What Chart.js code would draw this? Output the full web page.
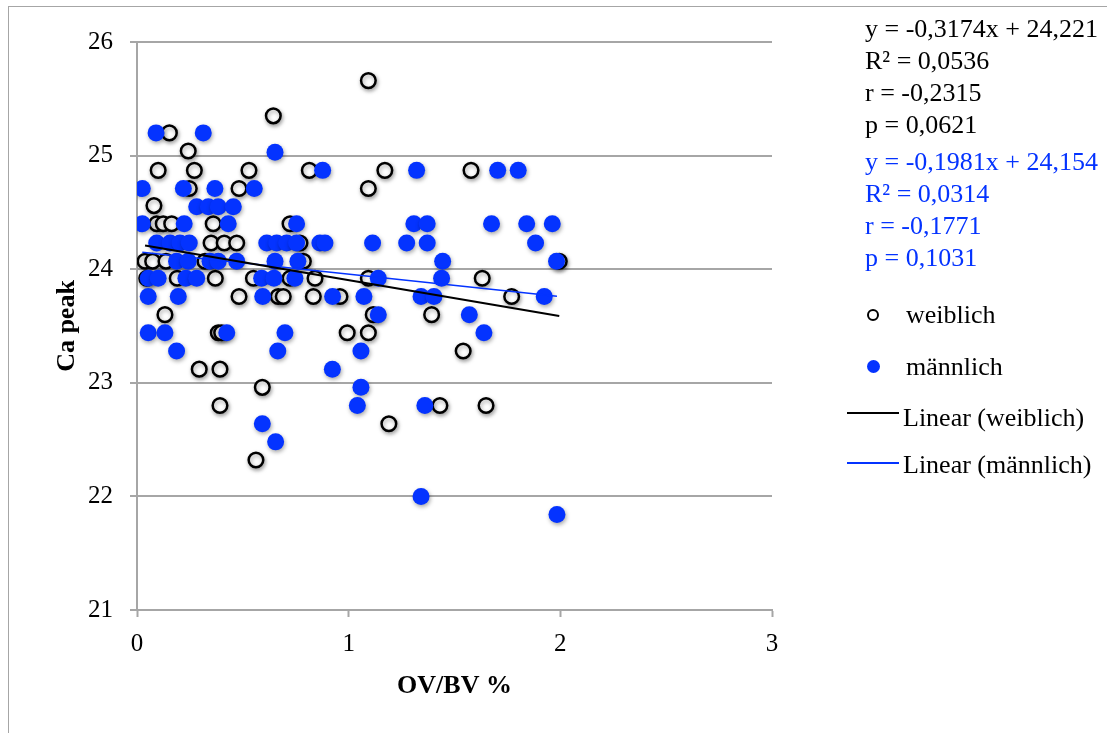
<!DOCTYPE html>
<html>
<head>
<meta charset="utf-8">
<script src="https://cdn.jsdelivr.net/npm/chart.js@4/dist/chart.umd.min.js"></script>
<style>
body{margin:0;background:#fff;width:1107px;height:733px;overflow:hidden;position:relative;font-family:'Liberation Serif','Times New Roman',serif}
#frame{position:absolute;left:8px;top:6px;width:1200px;height:800px;border-left:1px solid #a6a6a6;border-top:1px solid #a6a6a6}
canvas{position:absolute;left:0;top:0}
.t{position:absolute;font-size:26px;line-height:32px;white-space:nowrap;color:#000}
.b{color:#0433ff}
</style>
</head>
<body>
<div id="frame"></div>
<canvas id="chart" width="1107" height="733"></canvas>

<div class="t" style="left:865px;top:13px">y = -0,3174x + 24,221</div>
<div class="t" style="left:865px;top:45px">R² = 0,0536</div>
<div class="t" style="left:865px;top:77px">r = -0,2315</div>
<div class="t" style="left:865px;top:109px">p = 0,0621</div>
<div class="t b" style="left:865px;top:146px">y = -0,1981x + 24,154</div>
<div class="t b" style="left:865px;top:178px">R² = 0,0314</div>
<div class="t b" style="left:865px;top:210px">r = -0,1771</div>
<div class="t b" style="left:865px;top:242px">p = 0,1031</div>

<div style="position:absolute;left:867px;top:309px;width:12px;height:12px;box-sizing:border-box;border:2px solid #000;border-radius:50%;background:#fff"></div>
<div class="t" style="left:906px;top:299px">weiblich</div>
<div style="position:absolute;left:867px;top:360px;width:13px;height:13px;border-radius:50%;background:#0433ff"></div>
<div class="t" style="left:906px;top:351px">männlich</div>
<div style="position:absolute;left:847px;top:412px;width:52px;height:2px;background:#000"></div>
<div class="t" style="left:903px;top:402px">Linear (weiblich)</div>
<div style="position:absolute;left:847px;top:462px;width:52px;height:1.5px;background:#0433ff"></div>
<div class="t" style="left:903px;top:449px">Linear (männlich)</div>

<script>
// weiblich (open circles)
const weiblichX = [1.093, 0.644, 0.153, 0.242,
  0.10, 0.271, 0.529, 0.814, 1.171, 1.578,
  0.247, 0.482, 1.093,
  0.080,
  0.093, 0.124, 0.164, 0.36, 0.723,
  0.35, 0.412, 0.471, 0.77,
  0.038, 0.074, 0.137, 0.321, 0.786, 1.995,
  0.046, 0.19, 0.37, 0.55, 0.723, 0.841, 1.093, 1.631,
  0.482, 0.667, 0.691, 0.833, 0.959, 1.77,
  0.132, 1.116, 1.392,
  0.384, 0.40, 0.993, 1.093,
  1.541,
  0.294, 0.392,
  0.592,
  0.392, 1.431, 1.649,
  1.19,
  0.562];
const weiblichY = [25.66, 25.35, 25.2, 25.04,
  24.87, 24.87, 24.87, 24.87, 24.87, 24.87,
  24.71, 24.71, 24.71,
  24.56,
  24.4, 24.4, 24.4, 24.4, 24.4,
  24.23, 24.23, 24.23, 24.23,
  24.07, 24.07, 24.07, 24.07, 24.07, 24.07,
  23.92, 23.92, 23.92, 23.92, 23.92, 23.92, 23.92, 23.92,
  23.76, 23.76, 23.76, 23.76, 23.76, 23.76,
  23.6, 23.6, 23.6,
  23.44, 23.44, 23.44, 23.44,
  23.28,
  23.12, 23.12,
  22.96,
  22.8, 22.8, 22.8,
  22.64,
  22.32];

// männlich (filled blue)
const maennlichX = [0.090, 0.313,
  0.652,
  0.877, 1.321, 1.704, 1.801,
  0.025, 0.219, 0.368, 0.554,
  0.282, 0.337, 0.384, 0.455,
  0.025, 0.223, 0.431, 0.754, 1.308, 1.371, 1.675, 1.841, 1.962,
  0.093, 0.156, 0.203, 0.247, 0.613, 0.66, 0.707, 0.754, 0.864, 0.888, 1.113, 1.274, 1.371, 1.883,
  0.187, 0.242, 0.345, 0.384, 0.471, 0.652, 0.76, 1.444, 1.982,
  0.053, 0.10, 0.231, 0.282, 0.589, 0.647, 0.746, 1.14, 1.439,
  0.053, 0.195, 0.594, 0.924, 1.072, 1.342, 1.403, 1.924,
  1.14, 1.57,
  0.053, 0.132, 0.424, 0.699, 1.639,
  0.187, 0.665, 1.058,
  0.923,
  1.058,
  1.041, 1.36,
  0.592,
  0.655,
  1.342,
  1.984];
const maennlichY = [25.2, 25.2,
  25.03,
  24.87, 24.87, 24.87, 24.87,
  24.71, 24.71, 24.71, 24.71,
  24.55, 24.55, 24.55, 24.55,
  24.4, 24.4, 24.4, 24.4, 24.4, 24.4, 24.4, 24.4, 24.4,
  24.23, 24.23, 24.23, 24.23, 24.23, 24.23, 24.23, 24.23, 24.23, 24.23, 24.23, 24.23, 24.23, 24.23,
  24.07, 24.07, 24.07, 24.07, 24.07, 24.07, 24.07, 24.07, 24.07,
  23.92, 23.92, 23.92, 23.92, 23.92, 23.92, 23.92, 23.92, 23.92,
  23.76, 23.76, 23.76, 23.76, 23.76, 23.76, 23.76, 23.76,
  23.6, 23.6,
  23.44, 23.44, 23.44, 23.44, 23.44,
  23.28, 23.28, 23.28,
  23.12,
  22.96,
  22.8, 22.8,
  22.64,
  22.48,
  22.0,
  21.84];

// trend lines (from the equations in the chart)
const trendSlope = [-0.3174, -0.1981];
const trendIntercept = [24.221, 24.154];

const blue = '#0433ff';
const gray = '#a6a6a6';

function pts(xs, ys) { return xs.map((x, i) => ({x: x, y: ys[i]})); }
function trend(xs, k) {
  const a = Math.min(...xs), b = Math.max(...xs);
  return [{x: a, y: trendSlope[k] * a + trendIntercept[k]}, {x: b, y: trendSlope[k] * b + trendIntercept[k]}];
}

const shadow = {
  id: 'shadow',
  beforeDatasetDraw(chart, args) {
    if (chart.data.datasets[args.index].showLine) return;
    const c = chart.ctx;
    c.save();
    c.shadowColor = 'rgba(0,0,0,0.35)';
    c.shadowBlur = 4;
    c.shadowOffsetX = 1;
    c.shadowOffsetY = 2;
  },
  afterDatasetDraw(chart, args) {
    if (chart.data.datasets[args.index].showLine) return;
    chart.ctx.restore();
  }
};

Chart.defaults.font.family = "'Liberation Serif', 'Times New Roman', serif";
Chart.defaults.color = '#000';

new Chart(document.getElementById('chart'), {
  type: 'scatter',
  data: {
    datasets: [
      {label: 'Linear (weiblich)', data: trend(weiblichX, 0), showLine: true, borderColor: '#000', borderWidth: 2, pointRadius: 0, order: 1},
      {label: 'Linear (männlich)', data: trend(maennlichX, 1), showLine: true, borderColor: blue, borderWidth: 1.5, pointRadius: 0, order: 2},
      {label: 'männlich', data: pts(maennlichX, maennlichY), backgroundColor: blue, borderColor: blue, borderWidth: 0, pointRadius: 8.5, order: 3},
      {label: 'weiblich', data: pts(weiblichX, weiblichY), backgroundColor: '#fff', borderColor: '#000', borderWidth: 2.5, pointRadius: 7.3, order: 4}
    ]
  },
  options: {
    responsive: false,
    animation: false,
    layout: {padding: {left: 0, right: 335, top: 42, bottom: 0}},
    plugins: {legend: {display: false}, tooltip: {enabled: false}},
    scales: {
      x: {
        type: 'linear', min: 0, max: 3,
        ticks: {stepSize: 1, font: {size: 25}, padding: 12, color: '#000'},
        grid: {drawOnChartArea: false, tickLength: 7, tickColor: gray, tickWidth: 2},
        border: {color: gray, width: 2},
        title: {display: true, text: 'OV/BV %', font: {size: 26, weight: 'bold'}, color: '#000', padding: {top: 0, bottom: 31}},
        afterFit(s) { s.height = 123; }
      },
      y: {
        min: 21, max: 26,
        ticks: {stepSize: 1, font: {size: 25}, padding: 17, color: '#000'},
        grid: {color: gray, lineWidth: 2, tickLength: 7, tickColor: gray},
        border: {color: gray, width: 2},
        title: {display: true, text: 'Ca peak', font: {size: 26, weight: 'bold'}, color: '#000', padding: {top: 52, bottom: 0}},
        afterFit(s) { s.width = 137; }
      }
    }
  },
  plugins: [shadow]
});
</script>
</body>
</html>
